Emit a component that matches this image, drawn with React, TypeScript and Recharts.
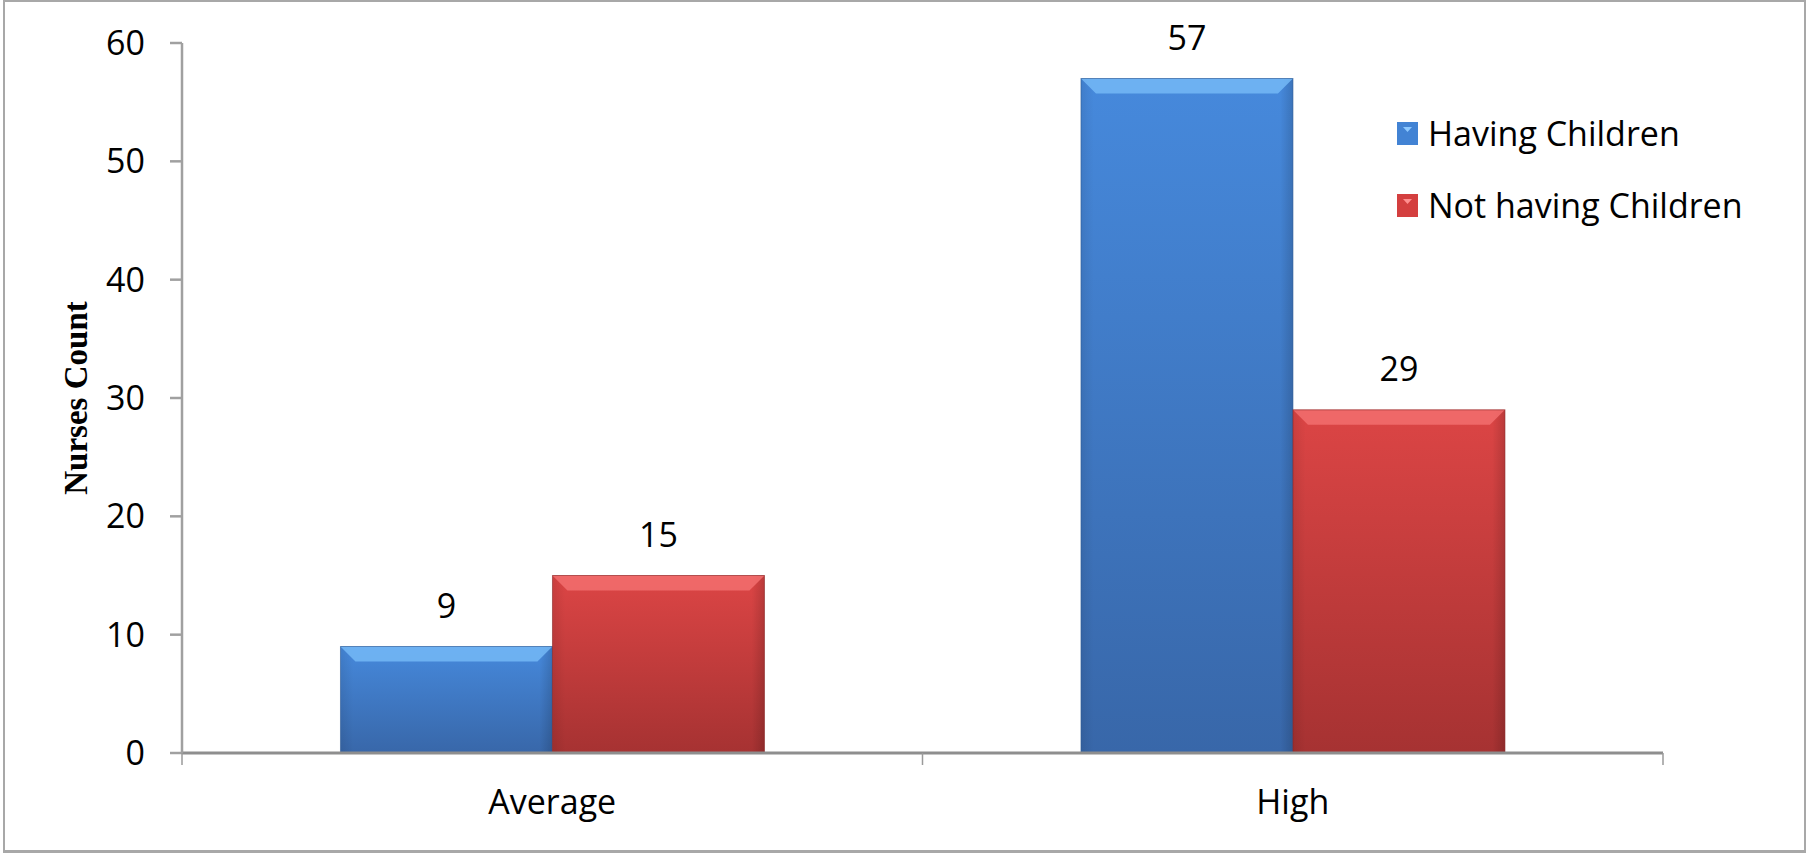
import { BarChart, Bar, XAxis, YAxis, Legend, LabelList } from "recharts";

const categories = ["Average", "High"];
const havingChildren = [9, 57];
const notHavingChildren = [15, 29];
const seriesNames = ["Having Children", "Not having Children"];
const yTicks = [0, 10, 20, 30, 40, 50, 60];

const data = categories.map((level, i) => ({
  level,
  having: havingChildren[i],
  notHaving: notHavingChildren[i],
}));

const FONT = "'Open Sans', 'Noto Sans', sans-serif";

function BevelBar(props: any) {
  const { x, y, width, height, gradId, light, edge } = props;
  if (!height || height <= 0) return null;
  const b = Math.min(15, height / 2);
  return (
    <g>
      <rect x={x} y={y} width={width} height={height} fill={`url(#${gradId})`} />
      <rect x={x} y={y} width={width} height={height} fill="url(#sideShade)" />
      <polygon
        points={`${x},${y} ${x + width},${y} ${x + width - b},${y + b} ${x + b},${y + b}`}
        fill={light}
        opacity={0.85}
      />
      <rect x={x} y={y} width={width} height={height} fill="none" stroke={edge} strokeWidth={1} strokeOpacity={0.6} />
    </g>
  );
}

// category label plus tick marks on the band edges, like Excel
function CategoryTick(props: any) {
  const { x, y, payload, index, visibleTicksCount } = props;
  const half = payload.offset || 0;
  const last = index === visibleTicksCount - 1;
  return (
    <g>
      <line x1={x - half} x2={x - half} y1={y} y2={y + 12} stroke="#9a9a9a" strokeWidth={1.5} />
      {last && <line x1={x + half} x2={x + half} y1={y} y2={y + 12} stroke="#9a9a9a" strokeWidth={1.5} />}
      <text x={x} y={y + 37} dy="0.71em" textAnchor="middle" fontSize={34} fill="#000" fontFamily={FONT}>
        {payload.value}
      </text>
    </g>
  );
}

const legendColors = ["#4283d4", "#d43f3f"];

function renderLegend(props: any) {
  const payload = props.payload || [];
  return (
    <div style={{ fontFamily: FONT }}>
      {payload.map((entry: any, i: number) => (
        <div key={entry.value} style={{ display: "flex", alignItems: "center", height: 72 }}>
          <svg width={21} height={23} style={{ display: "block" }}>
            <rect x={0} y={0} width={21} height={23} fill={legendColors[i]} />
            <polygon points="6,5 15,5 10.5,10" fill={i === 0 ? "#8cc8ff" : "#ff8f8f"} />
          </svg>
          <span style={{ marginLeft: 10, fontSize: 34, color: "#000", lineHeight: 1 }}>{entry.value}</span>
        </div>
      ))}
    </div>
  );
}

export default function App() {
  return (
    <div style={{ position: "absolute", left: 0, top: 0, width: 1811, height: 856, background: "#fff", fontFamily: FONT }}>
      <div
        style={{
          position: "absolute",
          left: 3,
          top: 0,
          width: 1803,
          height: 853,
          border: "2px solid #a8a8a8",
          borderBottomWidth: 3,
          boxSizing: "border-box",
        }}
      />
      <BarChart
        width={1811}
        height={856}
        data={data}
        margin={{ top: 43, right: 148, left: 0, bottom: 0 }}
        barCategoryGap="21.4%"
        barGap={0}
        style={{ position: "absolute", left: 0, top: 0 }}
      >
        <defs>
          <linearGradient id="blueGrad" x1="0" y1="0" x2="0" y2="1">
            <stop offset="0%" stopColor="#4689dc" />
            <stop offset="100%" stopColor="#3867a9" />
          </linearGradient>
          <linearGradient id="redGrad" x1="0" y1="0" x2="0" y2="1">
            <stop offset="0%" stopColor="#dc4545" />
            <stop offset="100%" stopColor="#a63232" />
          </linearGradient>
          <linearGradient id="sideShade" x1="0" y1="0" x2="1" y2="0">
            <stop offset="0%" stopColor="#000" stopOpacity={0.08} />
            <stop offset="6%" stopColor="#000" stopOpacity={0} />
            <stop offset="94%" stopColor="#000" stopOpacity={0} />
            <stop offset="100%" stopColor="#000" stopOpacity={0.15} />
          </linearGradient>
        </defs>
        <XAxis
          dataKey="level"
          axisLine={{ stroke: "#8e8e8e", strokeWidth: 3 }}
          tickLine={false}
          tickSize={0}
          tickMargin={0}
          height={103}
          interval={0}
          tick={<CategoryTick />}
        />
        <YAxis
          domain={[0, 60]}
          ticks={yTicks}
          width={182}
          axisLine={{ stroke: "#a0a0a0", strokeWidth: 2.5 }}
          tickLine={{ stroke: "#a0a0a0", strokeWidth: 2.5 }}
          tickSize={12}
          tickMargin={25}
          tick={{ fontSize: 34, fill: "#000", fontFamily: FONT }}
          label={{
            value: "Nurses Count",
            angle: -90,
            position: "center",
            dx: -16,
            style: { fontFamily: "'Liberation Serif', 'Times New Roman', serif", fontWeight: 700, fontSize: 33, fill: "#000" },
          }}
        />
        <Legend
          layout="vertical"
          align="center"
          verticalAlign="middle"
          content={renderLegend}
          wrapperStyle={{ left: 1397, top: 97, width: 400, height: 144 }}
        />
        <Bar
          dataKey="having"
          name={seriesNames[0]}
          fill={legendColors[0]}
          isAnimationActive={false}
          shape={(p: any) => <BevelBar {...p} gradId="blueGrad" light="#74b8f6" edge="#2d5a94" />}
        >
          <LabelList dataKey="having" position="top" offset={29} style={{ fontSize: 34, fill: "#000", fontFamily: FONT }} />
        </Bar>
        <Bar
          dataKey="notHaving"
          name={seriesNames[1]}
          fill={legendColors[1]}
          isAnimationActive={false}
          shape={(p: any) => <BevelBar {...p} gradId="redGrad" light="#f26e6e" edge="#8a2626" />}
        >
          <LabelList dataKey="notHaving" position="top" offset={29} style={{ fontSize: 34, fill: "#000", fontFamily: FONT }} />
        </Bar>
      </BarChart>
    </div>
  );
}
